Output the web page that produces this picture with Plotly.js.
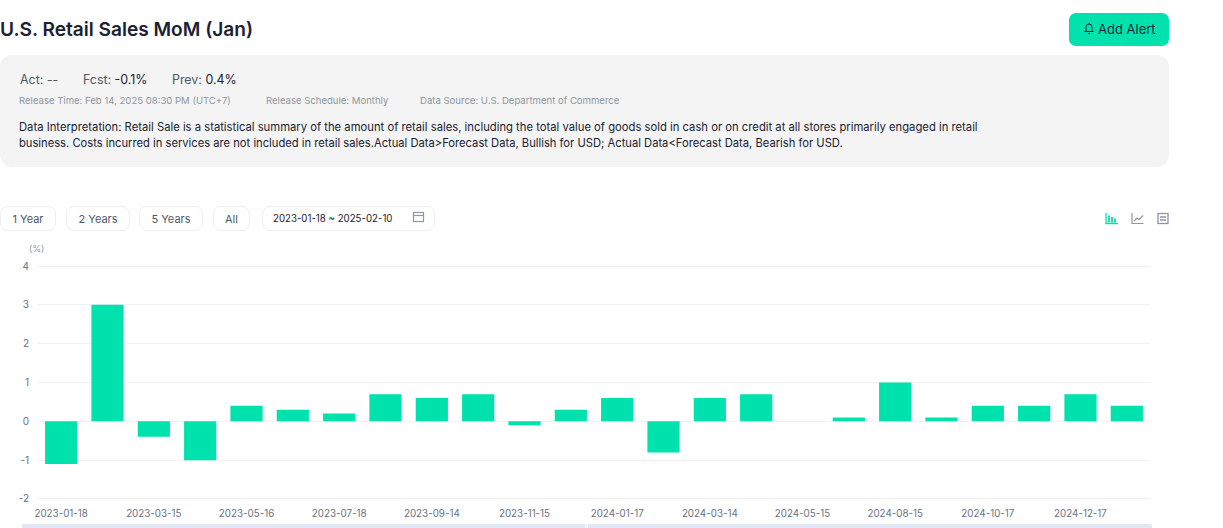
<!DOCTYPE html>
<html>
<head>
<meta charset="utf-8">
<script src="https://cdn.plot.ly/plotly-3.0.1.min.js"></script>
<style>
html,body{margin:0;padding:0;background:#fff;width:1223px;height:528px;overflow:hidden;font-family:Inter,"Noto Sans",sans-serif;}
.abs{position:absolute;white-space:nowrap;}
#title{left:0;top:16px;font-size:19.1px;font-weight:600;color:#1a2233;line-height:26px;}
#alert{left:1069px;top:13px;width:100px;height:33px;background:#00e2ae;border-radius:7px;color:#1a2233;font-size:13px;line-height:33px;}
#alert span{position:absolute;left:29px;top:0;}
#alert svg{position:absolute;left:14px;top:9px;}
#panel{left:0;top:55px;width:1169px;height:112px;background:#f4f4f4;border-radius:12px;}
.stat{font-size:12.4px;top:71px;line-height:17px;color:#4e5866;}
.stat b{font-weight:400;color:#1a2233;}
.meta{font-size:9.55px;top:94px;line-height:14px;color:#8f96a1;}
.desc{left:19px;font-size:11.2px;line-height:16px;color:#1a2233;}
.btn{top:206px;height:25px;box-sizing:border-box;border:1px solid #eeeff2;border-radius:8px;font-size:11px;line-height:24px;color:#4e5866;text-align:center;background:#fff;}
#chart{position:absolute;left:0;top:240px;width:1223px;height:284px;}
#strip{left:22px;top:524px;width:1130px;height:4px;background:#e0e6f3;border-radius:2px 2px 0 0;}
#grip{left:585px;top:524px;width:3px;height:4px;background:#f4f6fb;}
</style>
</head>
<body>
<div class="abs" id="title">U.S. Retail Sales MoM (Jan)</div>
<div class="abs" id="alert">
  <svg width="12" height="13" viewBox="0 0 12 13" fill="none" stroke="#1a2233" stroke-width="1"><path d="M3 9.5V5a3 3 0 0 1 6 0v4.5M1.5 9.5h9M5 11.5h2M6 1v1"/></svg>
  <span>Add Alert</span>
</div>
<div class="abs" id="panel"></div>
<div class="abs stat" style="left:20px">Act: <b style="color:#4e5866">--</b></div>
<div class="abs stat" style="left:83px">Fcst: <b>-0.1%</b></div>
<div class="abs stat" style="left:172px">Prev: <b>0.4%</b></div>
<div class="abs meta" style="left:19px">Release Time: Feb 14, 2025 08:30 PM (UTC+7)</div>
<div class="abs meta" style="left:266px">Release Schedule: Monthly</div>
<div class="abs meta" style="left:420px">Data Source: U.S. Department of Commerce</div>
<div class="abs desc" style="top:119px;font-size:11.25px">Data Interpretation: Retail Sale is a statistical summary of the amount of retail sales, including the total value of goods sold in cash or on credit at all stores primarily engaged in retail</div>
<div class="abs desc" style="top:135px">business. Costs incurred in services are not included in retail sales.Actual Data&gt;Forecast Data, Bullish for USD; Actual Data&lt;Forecast Data, Bearish for USD.</div>

<div class="abs btn" style="left:0;width:56px;">1 Year</div>
<div class="abs btn" style="left:66px;width:64px;">2 Years</div>
<div class="abs btn" style="left:139px;width:64px;">5 Years</div>
<div class="abs btn" style="left:213px;width:37px;">All</div>
<div class="abs btn" style="left:262px;width:173px;text-align:left;padding-left:10px;color:#1a2233;font-size:9.7px;">2023-01-18 ~ 2025-02-10</div>
<svg class="abs" style="left:412px;top:211px" width="13" height="12" viewBox="0 0 13 12" fill="none" stroke="#8f96a1" stroke-width="1.2"><rect x="1.5" y="1.5" width="10" height="9"/><path d="M1.5 4.5h10"/></svg>

<svg class="abs" style="left:1105px;top:212px" width="14" height="13" viewBox="0 0 14 13"><path d="M1 1v10.5h12" fill="none" stroke="#00e2ae" stroke-width="1.3"/><path d="M4 3.5v7M7 5v5.5M10 6.5v4" stroke="#00e2ae" stroke-width="1.8"/></svg>
<svg class="abs" style="left:1131px;top:212px" width="13" height="13" viewBox="0 0 13 13" fill="none" stroke="#8f96a1" stroke-width="1.2"><path d="M1 1v10.5h11.5"/><path d="M3 9l3-3 2 1.5L12 3.5"/></svg>
<svg class="abs" style="left:1157px;top:212px" width="12" height="13" viewBox="0 0 12 13" fill="none" stroke="#8f96a1" stroke-width="1.3"><rect x="1" y="1.5" width="10" height="10"/><path d="M3 5h6M3 8h6"/></svg>

<div id="chart"></div>
<div class="abs" id="strip"></div>
<div class="abs" id="grip"></div>

<script>
const releaseDates = ["2023-01-18","2023-02-15","2023-03-15","2023-04-14","2023-05-16","2023-06-15","2023-07-18","2023-08-15","2023-09-14","2023-10-17","2023-11-15","2023-12-14","2024-01-17","2024-02-15","2024-03-14","2024-04-15","2024-05-15","2024-06-18","2024-08-15","2024-09-17","2024-10-17","2024-11-15","2024-12-17","2025-01-16"];
const momValues = [-1.1,3.0,-0.4,-1.0,0.4,0.3,0.2,0.7,0.6,0.7,-0.1,0.3,0.6,-0.8,0.6,0.7,0,0.1,1.0,0.1,0.4,0.4,0.7,0.4];
const shownTicks = ["2023-01-18","2023-03-15","2023-05-16","2023-07-18","2023-09-14","2023-11-15","2024-01-17","2024-03-14","2024-05-15","2024-08-15","2024-10-17","2024-12-17"];
const yTicks = [-2,-1,0,1,2,3,4];

const trace = {
  type: "bar",
  x: releaseDates,
  y: momValues,
  width: 0.695,
  marker: {color: "#00e2ae", line: {width: 0}},
  hoverinfo: "x+y"
};
const layout = {
  width: 1223, height: 284,
  margin: {l: 38, r: 73, t: 25, b: 24, autoexpand: false},
  paper_bgcolor: "rgba(0,0,0,0)",
  plot_bgcolor: "rgba(0,0,0,0)",
  showlegend: false,
  font: {family: "Inter, 'Noto Sans', sans-serif", size: 10, color: "#6b7280"},
  xaxis: {
    type: "category",
    categoryorder: "array",
    categoryarray: releaseDates,
    range: [-0.5, 23.5],
    tickmode: "array",
    tickvals: shownTicks,
    ticktext: shownTicks,
    tickangle: 0,
    showgrid: false,
    zeroline: false,
    showline: false,
    ticks: "",
    ticklabelstandoff: 6,
    tickfont: {size: 9.8, color: "#6b7280"},
    automargin: false
  },
  yaxis: {
    range: [-2.026, 4.026],
    tickmode: "array",
    tickvals: yTicks,
    ticktext: yTicks.map(String),
    showgrid: true,
    gridcolor: "#f0f1f3",
    gridwidth: 1,
    zeroline: true,
    zerolinecolor: "#f0f1f3",
    zerolinewidth: 1,
    showline: false,
    ticks: "",
    ticklabelstandoff: 8,
    tickfont: {size: 10, color: "#6b7280"},
    automargin: false
  },
  annotations: [{
    xref: "paper", yref: "paper",
    x: 0, y: 1, xanchor: "right", yanchor: "bottom",
    xshift: 8, yshift: 9,
    text: "(%)",
    showarrow: false,
    font: {size: 9, color: "#8f96a1"}
  }]
};
Plotly.newPlot("chart", [trace], layout, {displayModeBar: false, responsive: false});
</script>
</body>
</html>
